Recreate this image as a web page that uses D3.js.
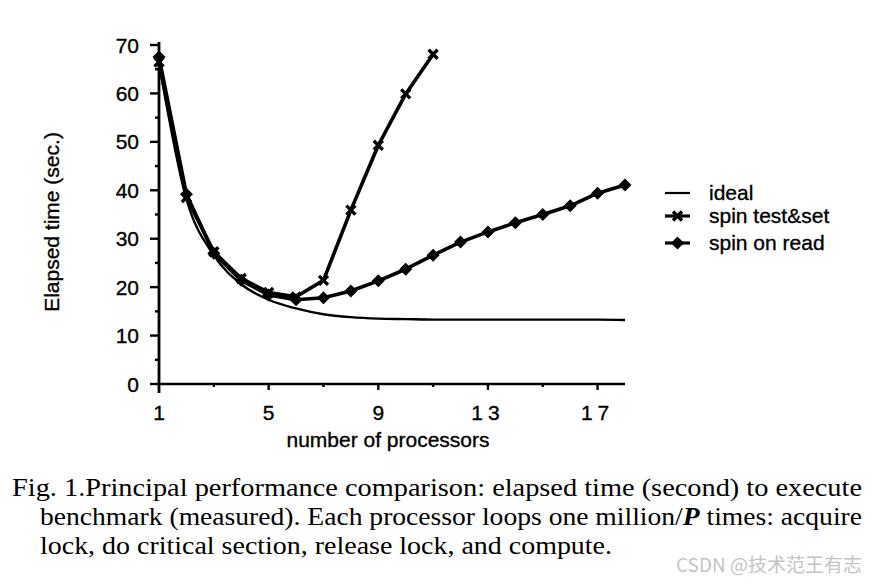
<!DOCTYPE html>
<html>
<head>
<meta charset="utf-8">
<script src="https://cdn.jsdelivr.net/npm/d3@7/dist/d3.min.js"></script>
<style>
  html, body { margin: 0; padding: 0; background: #fff; }
  svg { display: block; }
</style>
</head>
<body>
<svg id="chart" width="880" height="584"></svg>
<script>
// ---------- data ----------
const processors = [1,2,3,4,5,6,7,8,9,10,11,12,13,14,15,16,17,18];
const idealValues = [66.3, 38.2, 26.6, 20.6, 17.4, 15.6, 14.4, 13.8, 13.5, 13.4, 13.3, 13.3, 13.3, 13.3, 13.3, 13.3, 13.3, 13.2];
const testSetValues = [66.5, 38.5, 27.3, 21.8, 18.9, 18.0, 21.4, 35.9, 49.3, 59.9, 68.1];
const spinReadValues = [67.5, 39.2, 27.0, 21.4, 18.4, 17.4, 17.8, 19.2, 21.3, 23.7, 26.6, 29.3, 31.4, 33.3, 35.0, 36.8, 39.4, 41.1];
const xTickLabels = [1, 5, 9, 13, 17];
const yTickLabels = [0, 10, 20, 30, 40, 50, 60, 70];
const legendLabels = ["ideal", "spin test&set", "spin on read"];
const captionLines = [
  "Fig. 1.Principal performance comparison: elapsed time (second) to execute",
  "benchmark (measured). Each processor loops one million/",
  "lock, do critical section, release lock, and compute."
];
const watermark = "CSDN @技术范王有志";

// ---------- layout ----------
const svg = d3.select("#chart");
const x = d3.scaleLinear().domain([1, 18]).range([159, 625]);
const y = d3.scaleLinear().domain([0, 70]).range([384, 45]);
const sans = "'Liberation Sans', Arial, Helvetica, sans-serif";
const serif = "'Liberation Serif', 'Times New Roman', Times, serif";

const g = svg.append("g");

function heavy(sel) { return sel.attr("stroke", "#000").attr("stroke-width", 0.35); }

// axes lines
g.append("line").attr("x1", x(1)).attr("x2", x(18)).attr("y1", y(0)).attr("y2", y(0))
  .attr("stroke", "#000").attr("stroke-width", 2.4);
g.append("line").attr("x1", x(1)).attr("x2", x(1)).attr("y1", y(0) + 9).attr("y2", y(70) - 3)
  .attr("stroke", "#000").attr("stroke-width", 2.8);

// y ticks (major + minor)
const yMinor = d3.range(5, 70, 10);
g.selectAll(".ymaj").data(yTickLabels).join("line")
  .attr("x1", x(1) - 9).attr("x2", x(1)).attr("y1", d => y(d)).attr("y2", d => y(d))
  .attr("stroke", "#000").attr("stroke-width", 2.4);
g.selectAll(".ymin").data(yMinor).join("line")
  .attr("x1", x(1) - 4).attr("x2", x(1)).attr("y1", d => y(d)).attr("y2", d => y(d))
  .attr("stroke", "#000").attr("stroke-width", 2.4);
heavy(g.selectAll(".ylab").data(yTickLabels).join("text")
  .attr("x", 139).attr("y", d => y(d)).attr("dy", "0.36em")
  .attr("text-anchor", "end").attr("font-family", sans).attr("font-size", 21)
  .text(d => d));

// x ticks
const xMinor = [3, 7, 11, 15];
g.selectAll(".xmaj").data(xTickLabels.filter(d => d !== 1)).join("line")
  .attr("x1", d => x(d)).attr("x2", d => x(d)).attr("y1", y(0)).attr("y2", y(0) + 6)
  .attr("stroke", "#000").attr("stroke-width", 2.4);
g.selectAll(".xmin").data(xMinor).join("line")
  .attr("x1", d => x(d)).attr("x2", d => x(d)).attr("y1", y(0)).attr("y2", y(0) + 3)
  .attr("stroke", "#000").attr("stroke-width", 2.4);
heavy(g.selectAll(".xlab").data(xTickLabels).join("text")
  .attr("x", d => x(d)).attr("y", 420)
  .attr("text-anchor", "middle").attr("font-family", sans).attr("font-size", 21)
  .attr("letter-spacing", d => d >= 10 ? 5 : 0)
  .text(d => d));

// axis titles
heavy(g.append("text").attr("x", 388).attr("y", 447).attr("text-anchor", "middle")
  .attr("font-family", sans).attr("font-size", 21).text("number of processors"));
heavy(g.append("text").attr("transform", "translate(59,222) rotate(-90)").attr("text-anchor", "middle")
  .attr("font-family", sans).attr("font-size", 21).text("Elapsed time (sec.)"));

// lines
const line = d3.line().x(d => x(d[0])).y(d => y(d[1]));
const idealData = processors.map((p, i) => [p, idealValues[i]]);
const tsData = testSetValues.map((v, i) => [processors[i], v]);
const srData = spinReadValues.map((v, i) => [processors[i], v]);

g.append("path").datum(idealData).attr("d", d3.line().curve(d3.curveMonotoneX).x(d => x(d[0])).y(d => y(d[1])))
  .attr("fill", "none").attr("stroke", "#000").attr("stroke-width", 2.4);
g.append("path").datum(tsData).attr("d", line)
  .attr("fill", "none").attr("stroke", "#000").attr("stroke-width", 3.6).attr("stroke-linejoin", "round");
g.append("path").datum(srData).attr("d", line)
  .attr("fill", "none").attr("stroke", "#000").attr("stroke-width", 3.6).attr("stroke-linejoin", "round");

// markers
function xMarker(sel, cx, cy) {
  const s = 4.5;
  sel.append("path")
    .attr("d", `M${cx - s},${cy - s}L${cx + s},${cy + s}M${cx - s},${cy + s}L${cx + s},${cy - s}`)
    .attr("stroke", "#000").attr("stroke-width", 3.4).attr("fill", "none");
}
function diamond(sel, cx, cy) {
  const s = 6.5;
  sel.append("path")
    .attr("d", `M${cx},${cy - s}L${cx + s},${cy}L${cx},${cy + s}L${cx - s},${cy}Z`)
    .attr("fill", "#000");
}
tsData.forEach(d => xMarker(g, x(d[0]), y(d[1])));
srData.forEach(d => diamond(g, x(d[0]), y(d[1])));

// legend
const legendY = [193, 216, 243];
const lg = svg.append("g");
legendLabels.forEach((lab, i) => {
  lg.append("line").attr("x1", 665).attr("x2", 690).attr("y1", legendY[i]).attr("y2", legendY[i])
    .attr("stroke", "#000").attr("stroke-width", i === 0 ? 2.2 : 3.2);
  if (i === 1) xMarker(lg, 677.5, legendY[i]);
  if (i === 2) diamond(lg, 677.5, legendY[i]);
  heavy(lg.append("text").attr("x", 709).attr("y", legendY[i]).attr("dy", "0.35em")
    .attr("font-family", sans).attr("font-size", 21).text(lab));
});

// caption
const cap = svg.append("g").attr("font-family", serif).attr("font-size", 25).attr("fill", "#000");
cap.append("text").attr("x", 12).attr("y", 496)
  .attr("textLength", 850).attr("lengthAdjust", "spacingAndGlyphs").text(captionLines[0]);
const l2 = cap.append("text").attr("x", 40).attr("y", 525)
  .attr("textLength", 822).attr("lengthAdjust", "spacingAndGlyphs");
l2.append("tspan").text(captionLines[1]);
l2.append("tspan").attr("font-style", "italic").attr("font-weight", "bold").text("P");
l2.append("tspan").text(" times: acquire");
cap.append("text").attr("x", 40).attr("y", 554)
  .attr("textLength", 572).attr("lengthAdjust", "spacingAndGlyphs").text(captionLines[2]);

// watermark
svg.append("text").attr("x", 862).attr("y", 572).attr("text-anchor", "end")
  .attr("font-family", "'Noto Sans CJK SC', sans-serif").attr("font-size", 19)
  .attr("fill", "#c4c4c4").text(watermark);
</script>
</body>
</html>
